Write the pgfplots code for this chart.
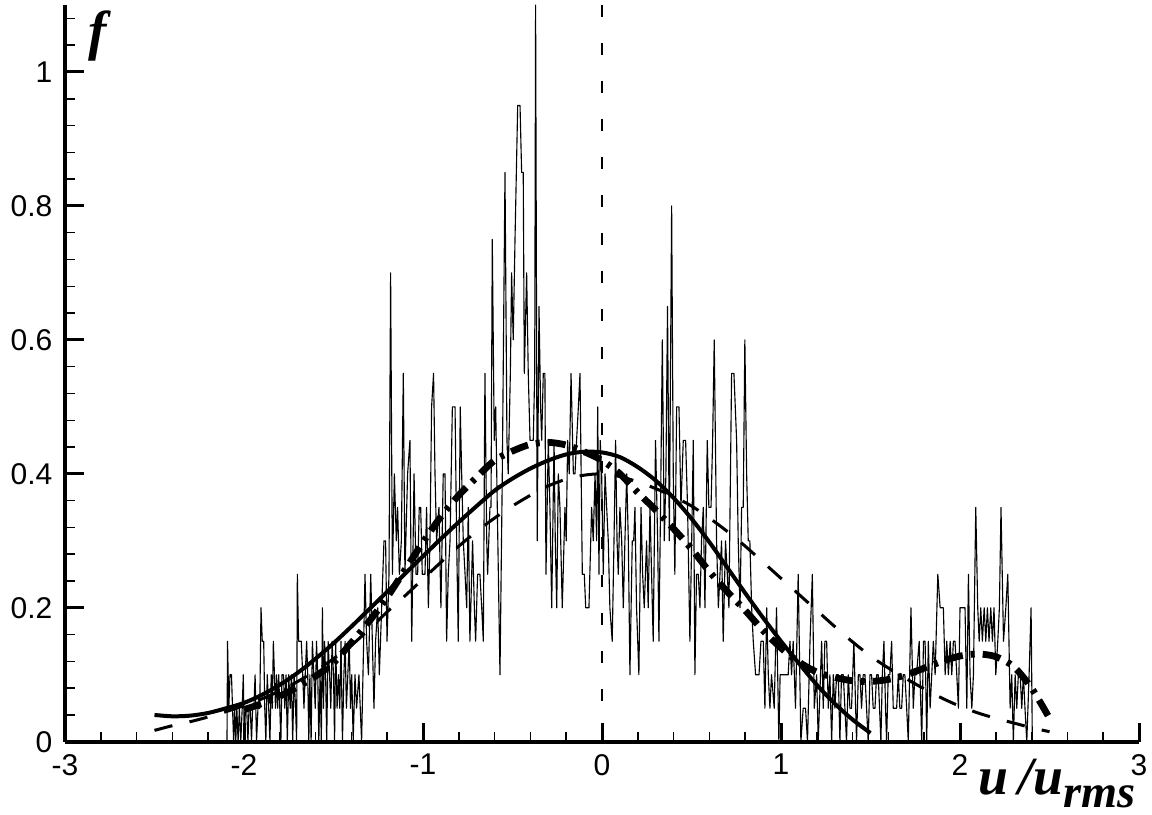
\documentclass[border=0pt]{standalone}
\usepackage{fontspec}
\setmainfont{Liberation Sans}
\newfontfamily\tms{Liberation Serif}
\usepackage{pgfplots}
\pgfplotsset{compat=1.18}

\begin{document}
\begin{tikzpicture}
\begin{axis}[
  scale only axis, width=429.6pt, height=294.7pt,
  xmin=-3, xmax=3, ymin=0, ymax=1.1,
  axis x line=bottom, axis y line=left,
  axis line style={-, line width=1.4pt},
  tick align=inside,
  xtick={-3,-2,-1,0,1,2,3}, xticklabels={-3,-2,-1,0,1,2,3},
  ytick={0,0.2,0.4,0.6,0.8,1}, yticklabels={0,0.2,0.4,0.6,0.8,1},
  minor xtick={-2.8,-2.6,-2.4,-2.2,-1.8,-1.6,-1.4,-1.2,-0.8,-0.6,-0.4,-0.2,0.2,0.4,0.6,0.8,1.2,1.4,1.6,1.8,2.2,2.4,2.6,2.8},
  minor ytick={0.04,0.08,0.12,0.16,0.24,0.28,0.32,0.36,0.44,0.48,0.52,0.56,0.64,0.68,0.72,0.76,0.84,0.88,0.92,0.96,1.04,1.08},
  major tick length=7.5pt, minor tick length=4pt,
  every major tick/.append style={line width=1.2pt, black},
  every minor tick/.append style={line width=0.6pt, black},
  tick label style={font=\fontsize{12}{14}\selectfont},
  yticklabel shift=1.5pt,
  xticklabel shift=1.5pt,
  clip=false,
]
% noisy histogram
\addplot[black, line width=0.45pt, line join=round] coordinates {
(-2.095,0) (-2.092,0.15) (-2.085,0.05) (-2.078,0.10) (-2.070,0.10) (-2.064,0.05) (-2.058,0) (-2.052,0.05)
(-2.046,0) (-2.040,0.05) (-2.033,0) (-2.026,0.05) (-2.018,0) (-2.010,0.05) (-2.004,0.10) (-1.998,0)
(-1.992,0.05) (-1.985,0.05) (-1.978,0) (-1.972,0.05) (-1.965,0.05) (-1.958,0) (-1.952,0.05) (-1.945,0.05)
(-1.938,0.10) (-1.930,0) (-1.922,0.05) (-1.912,0.05) (-1.905,0.20) (-1.898,0.15) (-1.890,0.15) (-1.884,0.05)
(-1.878,0) (-1.870,0.10) (-1.862,0.05) (-1.855,0) (-1.848,0.10) (-1.842,0.05) (-1.836,0.15) (-1.830,0.10)
(-1.824,0.05) (-1.818,0.10) (-1.812,0.05) (-1.806,0.10) (-1.800,0.05) (-1.794,0) (-1.788,0.10) (-1.780,0.10)
(-1.772,0.05) (-1.765,0.10) (-1.758,0) (-1.750,0.10) (-1.742,0.05) (-1.735,0.10) (-1.728,0) (-1.720,0.10)
(-1.712,0.05) (-1.706,0) (-1.702,0.25) (-1.695,0.15) (-1.680,0.15) (-1.672,0.10) (-1.665,0.05) (-1.658,0.10)
(-1.650,0.15) (-1.644,0.10) (-1.638,0) (-1.632,0.10) (-1.625,0) (-1.618,0.15) (-1.610,0.10) (-1.602,0.05)
(-1.595,0.15) (-1.588,0.10) (-1.582,0) (-1.575,0.10) (-1.568,0) (-1.562,0.20) (-1.556,0.05) (-1.550,0.15)
(-1.544,0.10) (-1.538,0) (-1.530,0.15) (-1.522,0.10) (-1.515,0.05) (-1.508,0.15) (-1.500,0.10) (-1.494,0)
(-1.488,0.15) (-1.480,0.05) (-1.472,0.10) (-1.465,0.05) (-1.458,0.15) (-1.450,0) (-1.442,0.10) (-1.435,0.15)
(-1.428,0.05) (-1.420,0.10) (-1.412,0.15) (-1.405,0.05) (-1.398,0.10) (-1.390,0)
(-1.380,0.10) (-1.371,0.05) (-1.358,0.10) (-1.343,0) (-1.324,0.25) (-1.315,0.15) (-1.305,0.10) (-1.292,0.25)
(-1.283,0.15) (-1.274,0.05) (-1.265,0.15) (-1.253,0.20) (-1.244,0.10) (-1.231,0.20) (-1.218,0.30) (-1.209,0.30)
(-1.201,0.15) (-1.190,0.25) (-1.181,0.70) (-1.171,0.25) (-1.160,0.40) (-1.149,0.30) (-1.142,0.35) (-1.132,0.25)
(-1.121,0.30) (-1.110,0.55) (-1.101,0.25) (-1.086,0.40) (-1.073,0.45) (-1.063,0.15) (-1.050,0.40) (-1.039,0.25)
(-1.030,0.25) (-1.021,0.35) (-1.013,0.35) (-1.004,0.25) (-0.989,0.25) (-0.980,0.35) (-0.970,0.20) (-0.961,0.30)
(-0.952,0.50) (-0.941,0.55) (-0.933,0.40) (-0.924,0.30) (-0.911,0.35) (-0.900,0.20) (-0.887,0.40) (-0.877,0.40)
(-0.868,0.15) (-0.859,0.25) (-0.849,0.30) (-0.836,0.50) (-0.821,0.50) (-0.812,0.30) (-0.803,0.15) (-0.792,0.50)
(-0.784,0.40) (-0.775,0.30) (-0.765,0.25) (-0.756,0.20) (-0.747,0.35) (-0.738,0.15) (-0.723,0.30) (-0.713,0.20)
(-0.706,0.15) (-0.695,0.25) (-0.682,0.25) (-0.672,0.20) (-0.663,0.15) (-0.654,0.55) (-0.644,0.30) (-0.639,0.25)
(-0.626,0.35) (-0.620,0.35) (-0.613,0.75) (-0.602,0.45) (-0.594,0.50)
(-0.579,0.25) (-0.570,0.10) (-0.557,0.40) (-0.542,0.85) (-0.531,0.45) (-0.524,0.40) (-0.512,0.55) (-0.505,0.70)
(-0.496,0.60) (-0.486,0.75) (-0.471,0.95) (-0.458,0.95) (-0.449,0.85) (-0.440,0.85) (-0.434,0.55) (-0.421,0.70)
(-0.412,0.55) (-0.402,0.45) (-0.393,0.45) (-0.384,0.45) (-0.376,0.55) (-0.371,1.10) (-0.362,0.30) (-0.352,0.65)
(-0.343,0.50) (-0.337,0.45) (-0.328,0.55) (-0.319,0.55) (-0.313,0.25) (-0.300,0.45) (-0.291,0.35) (-0.281,0.20)
(-0.268,0.45) (-0.261,0.30) (-0.253,0.20) (-0.244,0.40) (-0.235,0.35) (-0.222,0.20) (-0.207,0.35) (-0.200,0.30)
(-0.192,0.45) (-0.183,0.40) (-0.173,0.55) (-0.160,0.40) (-0.151,0.40) (-0.142,0.45) (-0.132,0.50) (-0.123,0.55)
(-0.110,0.25) (-0.099,0.25) (-0.091,0.20) (-0.073,0.20) (-0.058,0.35) (-0.049,0.30) (-0.039,0.40) (-0.030,0.30)
(-0.024,0.50) (-0.017,0.25) (-0.010,0.45) (-0.002,0.40) (0.007,0.25) (0.017,0.40) (0.026,0.35) (0.035,0.30)
(0.044,0.20) (0.057,0.15) (0.067,0.30) (0.076,0.45) (0.084,0.30) (0.091,0.25) (0.100,0.35) (0.110,0.30)
(0.119,0.20) (0.128,0.30) (0.138,0.40) (0.147,0.30) (0.156,0.10) (0.169,0.30) (0.177,0.30) (0.184,0.35)
(0.193,0.20) (0.206,0.10) (0.218,0.35) (0.227,0.25) (0.236,0.20) (0.249,0.30) (0.258,0.20) (0.268,0.35)
(0.277,0.25) (0.286,0.15) (0.299,0.45) (0.311,0.30) (0.318,0.15) (0.327,0.35) (0.337,0.60) (0.348,0.30)
(0.357,0.40) (0.366,0.65) (0.376,0.30) (0.389,0.80) (0.398,0.40) (0.407,0.25) (0.417,0.50) (0.430,0.50)
(0.441,0.35) (0.454,0.45) (0.467,0.45) (0.478,0.35) (0.491,0.15) (0.501,0.30) (0.510,0.45) (0.519,0.10)
(0.528,0.25) (0.538,0.25) (0.547,0.20) (0.556,0.30) (0.566,0.35) (0.575,0.20) (0.588,0.45) (0.597,0.35)
(0.609,0.35) (0.618,0.45) (0.627,0.60) (0.640,0.30) (0.650,0.20) (0.659,0.25) (0.668,0.30) (0.677,0.15)
(0.690,0.30) (0.700,0.25) (0.709,0.20) (0.724,0.55) (0.737,0.55) (0.752,0.45) (0.761,0.30) (0.771,0.20)
(0.780,0.35) (0.789,0.35) (0.798,0.60) (0.808,0.40) (0.817,0.30) (0.826,0.30) (0.836,0.20) (0.845,0.15)
(0.858,0.10) (0.877,0.10) (0.888,0.15) (0.901,0.15) (0.910,0.05) (0.920,0.20) (0.929,0.10) (0.938,0.05)
(0.947,0.10) (0.962,0.05) (0.975,0.20) (0.988,0)
(0.995,0.10) (1.013,0.10) (1.040,0.10) (1.050,0.15) (1.059,0.10) (1.068,0.15) (1.081,0.05) (1.096,0.25)
(1.111,0) (1.124,0.05) (1.137,0.05) (1.148,0) (1.162,0.15) (1.175,0.25) (1.186,0.05) (1.199,0.10)
(1.208,0) (1.227,0.15) (1.236,0.05) (1.245,0.15) (1.255,0.15) (1.264,0.05) (1.273,0.10) (1.283,0)
(1.292,0.10) (1.301,0.05) (1.311,0.10) (1.320,0.10) (1.329,0) (1.338,0.10) (1.348,0.10) (1.357,0.05)
(1.366,0) (1.376,0.10) (1.385,0.05) (1.394,0.05) (1.407,0.15) (1.417,0.05) (1.422,0) (1.432,0.10)
(1.441,0.10) (1.450,0.05) (1.459,0.10) (1.469,0.10) (1.478,0.05) (1.487,0) (1.497,0.10) (1.506,0.10)
(1.515,0.05) (1.525,0.05) (1.534,0.10) (1.543,0.10) (1.558,0) (1.566,0.10) (1.575,0.15) (1.584,0.05)
(1.590,0) (1.599,0.10) (1.608,0.10) (1.618,0.15) (1.627,0.05) (1.636,0.05) (1.646,0.05) (1.655,0.10)
(1.664,0.05) (1.674,0.05) (1.683,0.10) (1.692,0.10) (1.702,0.05) (1.711,0) (1.726,0.20) (1.739,0.05)
(1.748,0.10) (1.757,0.10) (1.772,0.15)
(1.786,0) (1.796,0.15) (1.805,0.15) (1.814,0) (1.823,0.15) (1.833,0.05) (1.842,0.10) (1.851,0.15)
(1.861,0.10) (1.876,0.25) (1.889,0.20) (1.907,0.20) (1.917,0.10) (1.926,0.15) (1.935,0.10) (1.945,0.15)
(1.954,0.10) (1.963,0.15) (1.972,0.15) (1.982,0.10) (1.991,0.05) (2.000,0.20) (2.028,0.20) (2.038,0.05)
(2.047,0.25) (2.056,0.10) (2.066,0.05) (2.075,0.10) (2.088,0.35) (2.099,0.20) (2.107,0.15) (2.116,0.20)
(2.125,0.15) (2.135,0.20) (2.144,0.15) (2.153,0.20) (2.162,0.15) (2.172,0.20) (2.181,0.15) (2.190,0.20)
(2.200,0.10) (2.211,0.15) (2.220,0.20) (2.229,0.35) (2.243,0.15) (2.256,0.20) (2.267,0.25) (2.280,0.05)
(2.289,0.10) (2.298,0) (2.308,0.10) (2.317,0.05) (2.326,0.10) (2.336,0.10) (2.345,0.05) (2.354,0.10)
(2.363,0.05) (2.373,0) (2.386,0.10) (2.397,0.20) (2.404,0)
};
% solid curve
\addplot[black, line width=1.6pt, smooth] coordinates {
(-2.5,0.040) (-2.4,0.038) (-2.3,0.039) (-2.2,0.043) (-2.1,0.050) (-2.0,0.058) (-1.9,0.070) (-1.8,0.085)
(-1.7,0.103) (-1.6,0.124) (-1.5,0.147) (-1.4,0.172) (-1.3,0.198) (-1.2,0.224) (-1.1,0.251) (-1.0,0.277)
(-0.9,0.303) (-0.8,0.328) (-0.7,0.352) (-0.6,0.375) (-0.5,0.393) (-0.4,0.408) (-0.3,0.420) (-0.2,0.429)
(-0.1,0.433) (0.0,0.432) (0.1,0.425) (0.2,0.410) (0.3,0.390) (0.4,0.364) (0.5,0.333) (0.6,0.298)
(0.7,0.260) (0.8,0.222) (0.9,0.185) (1.0,0.150) (1.1,0.117) (1.2,0.085) (1.3,0.057) (1.4,0.033) (1.5,0.013)
};
% thin dashed curve
\addplot[black, line width=1.2pt, smooth, dash pattern=on 7.4pt off 7pt] coordinates {
(-2.5,0.017) (-2.4,0.024) (-2.3,0.030) (-2.2,0.037) (-2.1,0.045) (-2.0,0.054) (-1.9,0.064) (-1.8,0.076)
(-1.7,0.090) (-1.6,0.106) (-1.5,0.124) (-1.4,0.144) (-1.3,0.168) (-1.2,0.194) (-1.1,0.218) (-1.0,0.243)
(-0.9,0.268) (-0.8,0.292) (-0.7,0.314) (-0.6,0.334) (-0.5,0.352) (-0.4,0.368) (-0.3,0.382) (-0.2,0.392)
(-0.1,0.398) (0.0,0.400) (0.1,0.396) (0.2,0.388) (0.3,0.378) (0.4,0.366) (0.5,0.352) (0.6,0.334)
(0.7,0.314) (0.8,0.292) (0.9,0.268) (1.0,0.244) (1.1,0.220) (1.2,0.196) (1.3,0.172) (1.4,0.149)
(1.5,0.128) (1.6,0.110) (1.7,0.094) (1.8,0.079) (1.9,0.065) (2.0,0.053) (2.1,0.043) (2.2,0.035)
(2.3,0.028) (2.4,0.021) (2.5,0.015)
};
% thick dash-dot curve
\addplot[black, line width=2.7pt, smooth, dash pattern=on 7.2pt off 3.2pt on 1.6pt off 3.2pt] coordinates {
(-2.0,0.048) (-1.9,0.057) (-1.8,0.068) (-1.7,0.082) (-1.6,0.098) (-1.5,0.118) (-1.4,0.148) (-1.3,0.180) (-1.2,0.216)
(-1.1,0.257) (-1.0,0.298) (-0.9,0.336) (-0.8,0.368) (-0.7,0.395) (-0.6,0.420) (-0.5,0.434) (-0.4,0.444)
(-0.3,0.447) (-0.2,0.443) (-0.1,0.433) (0.0,0.420) (0.1,0.400) (0.2,0.372) (0.3,0.346) (0.4,0.318)
(0.5,0.288) (0.6,0.254) (0.7,0.224) (0.8,0.196) (0.9,0.166) (1.0,0.140) (1.1,0.119) (1.2,0.104)
(1.3,0.096) (1.4,0.091) (1.5,0.090) (1.6,0.093) (1.7,0.100) (1.8,0.110) (1.9,0.120) (2.0,0.128)
(2.1,0.131) (2.2,0.127) (2.3,0.112) (2.4,0.080) (2.5,0.035)
};
% vertical dashed line at zero
\addplot[black, line width=0.9pt, dash pattern=on 4.8pt off 10.4pt] coordinates {(0,1.1) (0,0)};
\node[inner sep=0, anchor=center, font=\tms\bfseries\itshape\fontsize{22}{22}\selectfont]
  at (rel axis cs:0.0300,0.958) {f};
\node[inner sep=0, anchor=base west, font=\tms\bfseries\itshape\fontsize{21.5}{21.5}\selectfont]
  at (rel axis cs:0.850,-0.071) {u\kern4pt/u\raisebox{-5.5pt}{\fontsize{18.5}{18.5}\selectfont rms}};
\end{axis}
\pgfresetboundingbox
\path[use as bounding box] ([xshift=-26pt,yshift=-28.9pt]current axis.south west)
  rectangle ([xshift=5.2pt,yshift=2pt]current axis.north east);
\end{tikzpicture}
\end{document}
